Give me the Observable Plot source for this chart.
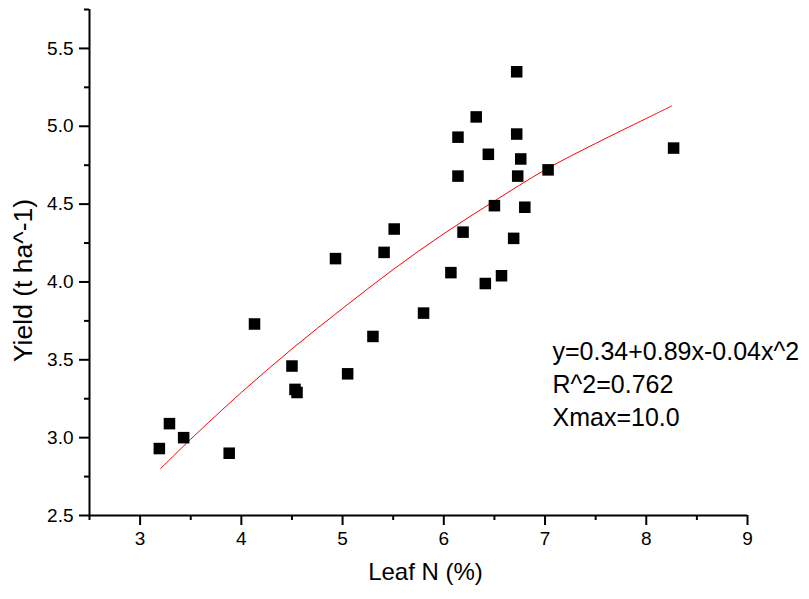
<!DOCTYPE html>
<html>
<head>
<meta charset="utf-8">
<script src="https://cdn.jsdelivr.net/npm/d3@7"></script>
<script src="https://cdn.jsdelivr.net/npm/@observablehq/plot@0.6"></script>
<style>
  html, body { margin: 0; padding: 0; background: #fff; }
  #chart svg { font-family: "Liberation Sans", Arial, sans-serif; display: block; }
</style>
</head>
<body>
<div id="chart"></div>
<script>
const leafN = [3.19, 3.29, 3.43, 3.88, 4.13, 4.50, 4.53, 4.55, 4.93, 5.05, 5.30, 5.41, 5.51, 5.80, 6.07, 6.14, 6.14, 6.19, 6.32, 6.41, 6.44, 6.50, 6.57, 6.69, 6.72, 6.72, 6.73, 6.76, 6.80, 7.03, 8.27];
const yieldT = [2.93, 3.09, 3.00, 2.90, 3.73, 3.46, 3.31, 3.29, 4.15, 3.41, 3.65, 4.19, 4.34, 3.80, 4.06, 4.93, 4.68, 4.32, 5.06, 3.99, 4.82, 4.49, 4.04, 4.28, 5.35, 4.95, 4.68, 4.79, 4.48, 4.72, 4.86];

// Fitted curve
const fitX = [3.2, 3.5, 4.0, 4.5, 5.0, 5.5, 6.0, 6.5, 7.0, 7.5, 8.0, 8.25];
const fitY = [2.80, 2.99, 3.29, 3.57, 3.83, 4.08, 4.31, 4.52, 4.72, 4.89, 5.05, 5.13];

// Axes
const xDomain = [2.5, 9];
const yDomain = [2.5, 5.75];
const xMajor = [3, 4, 5, 6, 7, 8, 9];
const xMinor = [2.5, 3.5, 4.5, 5.5, 6.5, 7.5, 8.5];
const yMajor = [2.5, 3.0, 3.5, 4.0, 4.5, 5.0, 5.5];
const yMinor = [2.75, 3.25, 3.75, 4.25, 4.75, 5.25, 5.75];
const xLabel = "Leaf N (%)";
const yLabel = "Yield (t ha^-1)";
const fitText = "y=0.34+0.89x-0.04x^2\nR^2=0.762\nXmax=10.0";

const points = leafN.map((x, i) => ({x, y: yieldT[i]}));
const fit = fitX.map((x, i) => ({x, y: fitY[i]}));

const chart = Plot.plot({
  width: 809,
  height: 599,
  marginLeft: 89,
  marginRight: 62,
  marginTop: 9,
  marginBottom: 84,
  style: {fontFamily: "'Liberation Sans', Arial, sans-serif", background: "#fff"},
  x: {domain: xDomain},
  y: {domain: yDomain},
  marks: [
    Plot.ruleX([xDomain[0]], {stroke: "black", strokeWidth: 2}),
    Plot.ruleY([yDomain[0]], {stroke: "black", strokeWidth: 2}),
    Plot.axisX({ticks: xMajor, tickSize: 10, tickPadding: 6, strokeWidth: 2, fontSize: 19, tickFormat: d => String(d), label: null, color: "black"}),
    Plot.axisX({ticks: xMinor, tickSize: 5, strokeWidth: 2, text: null, label: null}),
    Plot.axisY({ticks: yMajor, tickSize: 10, tickPadding: 6, strokeWidth: 2, fontSize: 19, tickFormat: d => d.toFixed(1), label: null, color: "black"}),
    Plot.axisY({ticks: yMinor, tickSize: 5, strokeWidth: 2, text: null, label: null}),
    Plot.line(fit, {x: "x", y: "y", stroke: "#ff0000", strokeWidth: 1, curve: "catmull-rom"}),
    Plot.dot(points, {x: "x", y: "y", symbol: "square", r: 6.5, fill: "black", stroke: "none"}),
    Plot.text([xLabel], {frameAnchor: "bottom", dx: 7, dy: 64, fontSize: 24, fill: "black"}),
    Plot.text([yLabel], {frameAnchor: "left", textAnchor: "middle", dx: -66, dy: 18, rotate: -90, fontSize: 26.5, fill: "black"}),
    Plot.text([fitText], {frameAnchor: "top-left", textAnchor: "start", lineAnchor: "top", dx: 463, dy: 327, fontSize: 25, lineHeight: 1.32, fill: "black"})
  ]
});
document.getElementById("chart").appendChild(chart);
</script>
</body>
</html>
